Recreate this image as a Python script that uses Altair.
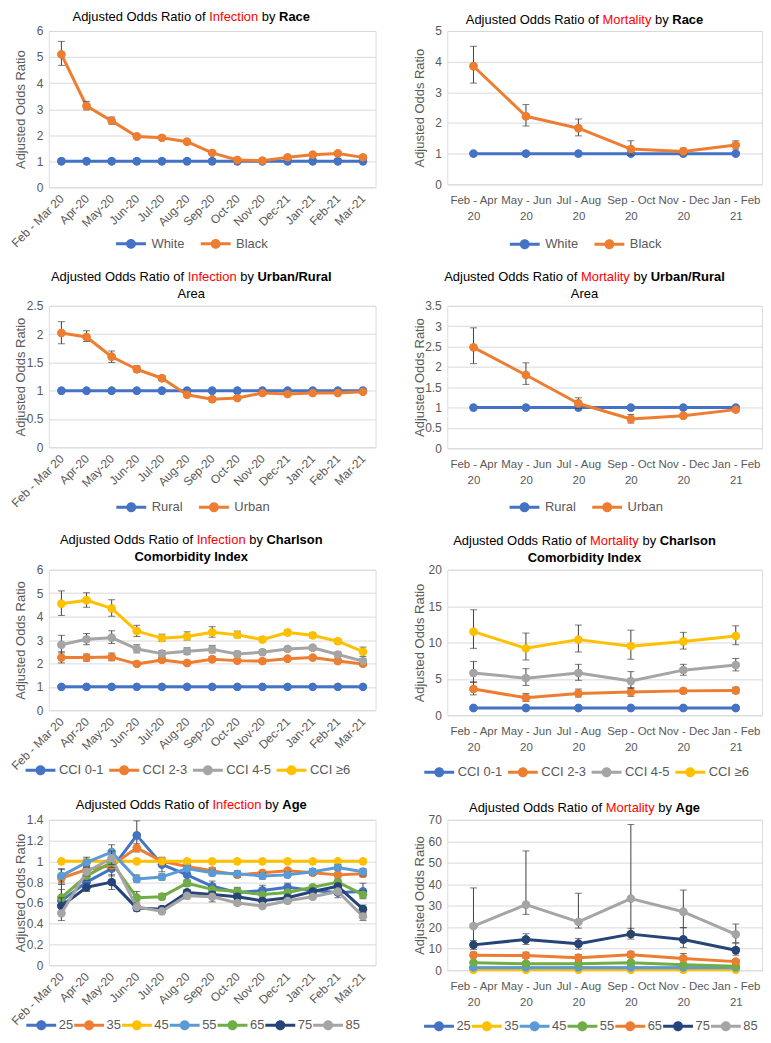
import altair as alt
import pandas as pd

FONT = "Liberation Sans"
BLUE = "#4472C4"; ORANGE = "#ED7D31"; GRAY = "#A5A5A5"; YELLOW = "#FFC000"
LBLUE = "#5B9BD5"; GREEN = "#70AD47"; NAVY = "#264478"
AXIS_GRAY = "#595959"; GRID = "#D9D9D9"; ERR = "#404040"; RED = "#FF0000"

# ---------------- categories ----------------
MONTHS = ["Feb - Mar 20", "Apr-20", "May-20", "Jun-20", "Jul-20", "Aug-20", "Sep-20",
          "Oct-20", "Nov-20", "Dec-21", "Jan-21", "Feb-21", "Mar-21"]
BIMONTHS = ["Feb - Apr 20", "May - Jun 20", "Jul - Aug 20", "Sep - Oct 20",
            "Nov - Dec 20", "Jan - Feb 21"]

# ---------------- Infection by Race ----------------
inf_race_white = [1, 1, 1, 1, 1, 1, 1, 1, 1, 1, 1, 1, 1]
inf_race_black = [5.10, 3.12, 2.55, 1.95, 1.90, 1.75, 1.32, 1.05, 1.02, 1.15, 1.25, 1.30, 1.15]
inf_race_black_lo = [4.68, 2.97, 2.43, 1.89, 1.85, 1.70, 1.27, 1.00, 0.98, 1.10, 1.20, 1.24, 1.10]
inf_race_black_hi = [5.60, 3.30, 2.70, 2.02, 1.96, 1.81, 1.38, 1.10, 1.07, 1.20, 1.31, 1.36, 1.21]

# ---------------- Mortality by Race ----------------
mort_race_white = [1, 1, 1, 1, 1, 1]
mort_race_black = [3.85, 2.22, 1.83, 1.15, 1.07, 1.28]
mort_race_black_lo = [3.30, 1.90, 1.58, 0.95, 0.97, 1.15]
mort_race_black_hi = [4.50, 2.60, 2.13, 1.42, 1.18, 1.42]

# ---------------- Infection by Urban/Rural ----------------
inf_area_rural = [1, 1, 1, 1, 1, 1, 1, 1, 1, 1, 1, 1, 1]
inf_area_urban = [2.02, 1.95, 1.60, 1.38, 1.22, 0.93, 0.85, 0.87, 0.96, 0.94, 0.96, 0.96, 0.98]
inf_area_urban_lo = [1.83, 1.87, 1.50, 1.33, 1.18, 0.90, 0.82, 0.85, 0.94, 0.92, 0.94, 0.94, 0.96]
inf_area_urban_hi = [2.22, 2.06, 1.70, 1.44, 1.26, 0.96, 0.88, 0.90, 0.98, 0.96, 0.98, 0.98, 1.00]

# ---------------- Mortality by Urban/Rural ----------------
mort_area_rural = [1, 1, 1, 1, 1, 1]
mort_area_urban = [2.48, 1.80, 1.10, 0.72, 0.80, 0.95]
mort_area_urban_lo = [2.08, 1.57, 0.98, 0.62, 0.75, 0.90]
mort_area_urban_hi = [2.96, 2.10, 1.24, 0.83, 0.85, 1.00]

# ---------------- Infection by CCI ----------------
inf_cci_01 = [1, 1, 1, 1, 1, 1, 1, 1, 1, 1, 1, 1, 1]
inf_cci_23 = [2.25, 2.25, 2.27, 1.98, 2.15, 2.02, 2.18, 2.12, 2.10, 2.20, 2.25, 2.10, 1.98]
inf_cci_23_lo = [2.02, 2.10, 2.12, 1.90, 2.05, 1.95, 2.10, 2.05, 2.03, 2.13, 2.18, 2.03, 1.90]
inf_cci_23_hi = [2.50, 2.40, 2.45, 2.07, 2.25, 2.10, 2.27, 2.20, 2.18, 2.28, 2.33, 2.18, 2.06]
inf_cci_45 = [2.80, 3.03, 3.10, 2.62, 2.42, 2.52, 2.60, 2.40, 2.48, 2.62, 2.67, 2.38, 2.10]
inf_cci_45_lo = [2.45, 2.80, 2.85, 2.45, 2.30, 2.38, 2.45, 2.30, 2.38, 2.52, 2.57, 2.28, 2.00]
inf_cci_45_hi = [3.20, 3.28, 3.40, 2.80, 2.55, 2.67, 2.77, 2.52, 2.58, 2.72, 2.77, 2.48, 2.20]
inf_cci_6 = [4.55, 4.70, 4.35, 3.38, 3.08, 3.15, 3.33, 3.22, 3.02, 3.32, 3.20, 2.95, 2.50]
inf_cci_6_lo = [4.05, 4.40, 4.02, 3.15, 2.95, 3.00, 3.12, 3.10, 2.93, 3.22, 3.10, 2.85, 2.30]
inf_cci_6_hi = [5.10, 5.02, 4.72, 3.63, 3.25, 3.35, 3.57, 3.38, 3.12, 3.42, 3.30, 3.05, 2.70]

# ---------------- Mortality by CCI ----------------
mort_cci_01 = [1, 1, 1, 1, 1, 1]
mort_cci_23 = [3.6, 2.4, 3.0, 3.2, 3.35, 3.4]
mort_cci_23_lo = [2.8, 1.9, 2.5, 2.6, 3.0, 3.0]
mort_cci_23_hi = [4.6, 3.0, 3.6, 3.8, 3.7, 3.85]
mort_cci_45 = [5.8, 5.1, 5.8, 4.7, 6.2, 6.9]
mort_cci_45_lo = [4.5, 4.1, 4.8, 3.7, 5.5, 6.1]
mort_cci_45_hi = [7.4, 6.4, 7.0, 6.0, 7.0, 7.8]
mort_cci_6 = [11.5, 9.2, 10.4, 9.5, 10.15, 10.9]
mort_cci_6_lo = [9.2, 7.6, 8.7, 7.7, 9.1, 9.7]
mort_cci_6_hi = [14.5, 11.3, 12.4, 11.7, 11.4, 12.3]

# ---------------- Infection by Age ----------------
inf_age_25 = [0.62, 0.80, 0.93, 1.25, 0.97, 0.87, 0.76, 0.70, 0.72, 0.75, 0.72, 0.70, 0.71]
inf_age_25_lo = [0.50, 0.74, 0.86, 1.12, 0.90, 0.82, 0.71, 0.66, 0.68, 0.71, 0.68, 0.65, 0.64]
inf_age_25_hi = [0.78, 0.87, 1.01, 1.39, 1.04, 0.93, 0.81, 0.75, 0.77, 0.79, 0.76, 0.75, 0.79]
inf_age_35 = [0.84, 0.92, 0.96, 1.13, 1.00, 0.95, 0.91, 0.87, 0.89, 0.91, 0.89, 0.87, 0.88]
inf_age_35_lo = [0.78, 0.88, 0.92, 1.09, 0.97, 0.92, 0.88, 0.85, 0.87, 0.89, 0.87, 0.85, 0.85]
inf_age_35_hi = [0.92, 0.96, 1.01, 1.17, 1.03, 0.98, 0.94, 0.90, 0.91, 0.93, 0.91, 0.89, 0.91]
inf_age_45 = [1, 1, 1, 1, 1, 1, 1, 1, 1, 1, 1, 1, 1]
inf_age_55 = [0.86, 0.99, 1.09, 0.83, 0.85, 0.93, 0.89, 0.88, 0.86, 0.87, 0.90, 0.94, 0.90]
inf_age_55_lo = [0.80, 0.95, 1.03, 0.80, 0.82, 0.90, 0.86, 0.85, 0.83, 0.85, 0.87, 0.91, 0.86]
inf_age_55_hi = [0.93, 1.04, 1.16, 0.87, 0.88, 0.96, 0.92, 0.91, 0.89, 0.90, 0.93, 0.97, 0.93]
inf_age_65 = [0.65, 0.86, 0.99, 0.65, 0.66, 0.79, 0.73, 0.71, 0.68, 0.70, 0.75, 0.80, 0.68]
inf_age_65_lo = [0.58, 0.82, 0.94, 0.62, 0.63, 0.76, 0.70, 0.68, 0.66, 0.68, 0.73, 0.77, 0.65]
inf_age_65_hi = [0.73, 0.90, 1.04, 0.71, 0.69, 0.82, 0.76, 0.74, 0.71, 0.72, 0.77, 0.83, 0.72]
inf_age_75 = [0.57, 0.75, 0.80, 0.55, 0.54, 0.70, 0.68, 0.66, 0.62, 0.65, 0.71, 0.76, 0.54]
inf_age_75_lo = [0.50, 0.71, 0.73, 0.52, 0.51, 0.67, 0.65, 0.63, 0.60, 0.63, 0.69, 0.73, 0.50]
inf_age_75_hi = [0.65, 0.79, 0.87, 0.58, 0.57, 0.73, 0.71, 0.69, 0.64, 0.67, 0.73, 0.79, 0.58]
inf_age_85 = [0.50, 0.90, 1.03, 0.56, 0.52, 0.67, 0.66, 0.60, 0.57, 0.62, 0.66, 0.71, 0.47]
inf_age_85_lo = [0.43, 0.86, 0.97, 0.53, 0.50, 0.64, 0.61, 0.58, 0.55, 0.60, 0.64, 0.68, 0.43]
inf_age_85_hi = [0.58, 0.94, 1.10, 0.60, 0.55, 0.70, 0.70, 0.63, 0.60, 0.64, 0.68, 0.74, 0.51]

# ---------------- Mortality by Age ----------------
mort_age_25 = [1.0, 1.0, 1.0, 1.0, 1.0, 1.0]
mort_age_35 = [0.2, 0.2, 0.2, 0.2, 0.2, 0.2]
mort_age_45 = [1.2, 1.2, 1.2, 1.2, 1.2, 1.2]
mort_age_55 = [3.5, 3.0, 3.0, 3.5, 2.5, 1.8]
mort_age_55_lo = [2.8, 2.4, 2.4, 2.8, 2.0, 1.4]
mort_age_55_hi = [4.3, 3.8, 3.7, 4.3, 3.1, 2.3]
mort_age_65 = [7.0, 6.8, 5.8, 7.2, 5.5, 4.0]
mort_age_65_lo = [5.8, 5.5, 4.7, 5.9, 4.5, 3.3]
mort_age_65_hi = [8.4, 8.4, 7.2, 8.8, 7.8, 4.9]
mort_age_75 = [11.8, 14.3, 12.3, 16.8, 14.3, 9.3]
mort_age_75_lo = [9.6, 12.0, 9.8, 14.5, 10.5, 7.0]
mort_age_75_hi = [13.8, 17.0, 14.8, 19.5, 19.8, 12.6]
mort_age_85 = [20.5, 30.5, 22.5, 33.3, 27.2, 16.7]
mort_age_85_lo = [11.0, 26.0, 19.6, 16.4, 19.8, 12.8]
mort_age_85_hi = [38.3, 55.5, 35.8, 67.8, 37.3, 21.5]

# ---------------- text metrics (Liberation Sans = Arial/Helvetica widths) ----------------
REG = {' ': 278, 'A': 667, 'B': 667, 'C': 722, 'D': 722, 'E': 667, 'F': 611, 'I': 278,
       'M': 833, 'O': 778, 'R': 722, 'U': 722, 'W': 944, 'a': 556, 'b': 556, 'c': 500,
       'd': 556, 'e': 556, 'f': 278, 'g': 556, 'h': 556, 'i': 222, 'j': 222, 'k': 500,
       'l': 222, 'm': 833, 'n': 556, 'o': 556, 'p': 556, 'r': 333, 's': 500, 't': 278,
       'u': 556, 'x': 500, 'y': 500, '/': 278, '-': 333, '.': 278, '\u2265': 549}
BOLD = {' ': 278, 'A': 722, 'C': 722, 'I': 278, 'R': 722, 'U': 722, 'a': 556, 'b': 611,
        'c': 556, 'd': 611, 'e': 556, 'g': 611, 'h': 611, 'i': 278, 'l': 278, 'm': 889,
        'n': 611, 'o': 611, 'r': 389, 's': 556, 't': 333, 'u': 611, 'x': 556, 'y': 556, '/': 278}


def text_w(s, size, bold=False):
    tab = BOLD if bold else REG
    return sum(tab.get(ch, 556) for ch in s) * size / 1000.0


LEFT_X = 48.0     # page x of left plot areas
RIGHT_X = 446.7   # page x of right plot areas
# legend symbol: a 30px line with a dot in the middle (size 100 -> 5px per unit)
PATH = "M-3,-0.3H3V0.3H-3Z M-1,0A1,1 0 1,1 1,0A1,1 0 1,1 -1,0Z"


def title_layers(lines, cx):
    out = []
    for segs, yc in lines:
        total = sum(text_w(t, 13, st == "b") for t, st in segs)
        x = cx - total / 2.0
        for t, st in segs:
            w = text_w(t, 13, st == "b")
            if t.strip():
                out.append(
                    alt.Chart(pd.DataFrame({"t": [t]})).mark_text(
                        align="left", baseline="middle", font=FONT, fontSize=13,
                        fontWeight="bold" if st == "b" else "normal",
                        color=RED if st == "r" else "#000000",
                    ).encode(text="t:N", x=alt.value(x), y=alt.value(yc))
                )
            x += w
    return out


def make_df(periods, series, vals, los, his):
    rows = []
    for s in series:
        for i, p in enumerate(periods):
            lo = los.get(s)
            hi = his.get(s)
            rows.append({"period": p, "series": s, "value": vals[s][i],
                         "lo": None if lo is None else lo[i],
                         "hi": None if hi is None else hi[i]})
    return pd.DataFrame(rows)


def panel(periods, series, colors, vals, los, his, ymax, ticks, W, H, rotated,
          lines, left_page, title_cx_page, leg_cx_page, leg_cy, col_pad, lab_off):
    df = make_df(periods, series, vals, los, his)
    cscale = alt.Scale(domain=series, range=colors)
    yscale = alt.Scale(domain=[0, ymax], nice=False, zero=True)
    if rotated:
        xaxis = alt.Axis(title=None, domain=False, ticks=False, tickSize=0, grid=False,
                         labelAngle=315, labelAlign="right", labelBaseline="middle",
                         labelPadding=9, labelFont=FONT, labelFontSize=12,
                         labelColor=AXIS_GRAY, labelOverlap=False)
    else:
        xaxis = alt.Axis(title=None, domain=False, ticks=False, tickSize=0, grid=False,
                         labelAngle=0, labelAlign="center", labelBaseline="top",
                         labelPadding=10, labelFont=FONT, labelFontSize=11.5,
                         labelColor=AXIS_GRAY, labelOverlap=False, labelLineHeight=16,
                         labelExpr="[slice(datum.label, 0, -3), slice(datum.label, -2)]")
    yaxis = alt.Axis(title="Adjusted Odds Ratio", values=ticks, labelExpr="'' + datum.value",
                     grid=True, gridColor=GRID, gridWidth=1, domain=False, ticks=False,
                     tickSize=0, labelFont=FONT, labelFontSize=12, labelColor=AXIS_GRAY,
                     labelPadding=6, titleFont=FONT, titleFontSize=13,
                     titleFontWeight="normal", titleColor=AXIS_GRAY, titleAngle=270,
                     titleX=-28, titleY=H / 2.0, titleAlign="center", titleBaseline="middle")
    xenc = alt.X("period:N", sort=periods,
                 scale=alt.Scale(type="point", domain=periods, padding=0.5), axis=xaxis)

    def yenc(field):
        return alt.Y(field + ":Q", scale=yscale, axis=yaxis)

    labels = list(series)
    n = len(labels)
    lw = sum(32 + lab_off + text_w(l, 13) for l in labels) + col_pad * (n - 1)
    leg = alt.Legend(title=None, orient="none", padding=0,
                     legendX=(leg_cx_page - left_page) - lw / 2.0 + 10,
                     legendY=H + leg_cy - 6.5,
                     direction="horizontal", columns=n, columnPadding=col_pad,
                     symbolType=PATH, symbolSize=100, symbolStrokeWidth=0, symbolOpacity=1,
                     labelFont=FONT, labelFontSize=13, labelColor=AXIS_GRAY,
                     labelOffset=10 + lab_off)

    layers = title_layers(lines, title_cx_page - left_page)
    base = alt.Chart(df)
    # legend-carrying layer (all points; repainted below by the per-series layers)
    layers.append(base.mark_point(filled=True, size=70, opacity=1, strokeWidth=0).encode(
        x=xenc, y=yenc("value"), color=alt.Color("series:N", scale=cscale, legend=leg)))
    for s in series:
        b = base.transform_filter(alt.datum.series == s)
        layers.append(b.mark_line(strokeWidth=3, strokeJoin="round").encode(
            x=xenc, y=yenc("value"),
            color=alt.Color("series:N", scale=cscale, legend=None)))
        if los.get(s) is not None:
            e = b.transform_filter("isValid(datum.lo)")
            layers.append(e.mark_rule(color=ERR, strokeWidth=1).encode(
                x=xenc, y=yenc("lo"), y2="hi:Q"))
            layers.append(e.mark_tick(color=ERR, thickness=1, size=7).encode(
                x=xenc, y=yenc("lo")))
            layers.append(e.mark_tick(color=ERR, thickness=1, size=7).encode(
                x=xenc, y=yenc("hi")))
        layers.append(b.mark_point(filled=True, size=70, opacity=1, strokeWidth=0).encode(
            x=xenc, y=yenc("value"),
            color=alt.Color("series:N", scale=cscale, legend=None)))
    return alt.layer(*layers).properties(width=W, height=H)


def T(kind, subject):
    return [("Adjusted Odds Ratio of", "n"), (" ", "n"), (kind, "r"), (" ", "n"),
            ("by", "n"), (" ", "n"), (subject, "b")]


LW = 328
RW = 316

# Row 1
p1 = panel(MONTHS, ["White", "Black"], [BLUE, ORANGE],
           {"White": inf_race_white, "Black": inf_race_black},
           {"Black": inf_race_black_lo}, {"Black": inf_race_black_hi},
           6, [0, 1, 2, 3, 4, 5, 6], LW, 157, True,
           [(T("Infection", "Race"), -14)], LEFT_X, 191, 190, 56.5, 15, 4)
p2 = panel(BIMONTHS, ["White", "Black"], [BLUE, ORANGE],
           {"White": mort_race_white, "Black": mort_race_black},
           {"Black": mort_race_black_lo}, {"Black": mort_race_black_hi},
           5, [0, 1, 2, 3, 4, 5], RW, 154, False,
           [(T("Mortality", "Race"), -11)], RIGHT_X, 584.5, 584, 60, 15, 4)

# Row 2
p3 = panel(MONTHS, ["Rural", "Urban"], [BLUE, ORANGE],
           {"Rural": inf_area_rural, "Urban": inf_area_urban},
           {"Urban": inf_area_urban_lo}, {"Urban": inf_area_urban_hi},
           2.5, [0, 0.5, 1, 1.5, 2, 2.5], LW, 142, True,
           [(T("Infection", "Urban/Rural"), -29), ([("Area", "n")], -12)],
           LEFT_X, 191, 191, 60, 15, 4)
p4 = panel(BIMONTHS, ["Rural", "Urban"], [BLUE, ORANGE],
           {"Rural": mort_area_rural, "Urban": mort_area_urban},
           {"Urban": mort_area_urban_lo}, {"Urban": mort_area_urban_hi},
           3.5, [0, 0.5, 1, 1.5, 2, 2.5, 3, 3.5], RW, 143, False,
           [(T("Mortality", "Urban/Rural"), -28.5), ([("Area", "n")], -12.3)],
           RIGHT_X, 584.5, 584.5, 59, 15, 4)

# Row 3
CCI = ["CCI 0-1", "CCI 2-3", "CCI 4-5", "CCI \u22656"]
CCI_COL = [BLUE, ORANGE, GRAY, YELLOW]
p5 = panel(MONTHS, CCI, CCI_COL,
           {CCI[0]: inf_cci_01, CCI[1]: inf_cci_23, CCI[2]: inf_cci_45, CCI[3]: inf_cci_6},
           {CCI[1]: inf_cci_23_lo, CCI[2]: inf_cci_45_lo, CCI[3]: inf_cci_6_lo},
           {CCI[1]: inf_cci_23_hi, CCI[2]: inf_cci_45_hi, CCI[3]: inf_cci_6_hi},
           6, [0, 1, 2, 3, 4, 5, 6], LW, 141, True,
           [(T("Infection", "Charlson"), -30), ([("Comorbidity Index", "b")], -13)],
           LEFT_X, 191, 186, 60, 5, 2)
p6 = panel(BIMONTHS, CCI, CCI_COL,
           {CCI[0]: mort_cci_01, CCI[1]: mort_cci_23, CCI[2]: mort_cci_45, CCI[3]: mort_cci_6},
           {CCI[1]: mort_cci_23_lo, CCI[2]: mort_cci_45_lo, CCI[3]: mort_cci_6_lo},
           {CCI[1]: mort_cci_23_hi, CCI[2]: mort_cci_45_hi, CCI[3]: mort_cci_6_hi},
           20, [0, 5, 10, 15, 20], RW, 146, False,
           [(T("Mortality", "Charlson"), -29), ([("Comorbidity Index", "b")], -12)],
           RIGHT_X, 584.5, 585, 57, 5, 2)

# Row 4
AGES = ["25", "35", "45", "55", "65", "75", "85"]
p7 = panel(MONTHS, AGES, [BLUE, ORANGE, YELLOW, LBLUE, GREEN, NAVY, GRAY],
           {"25": inf_age_25, "35": inf_age_35, "45": inf_age_45, "55": inf_age_55,
            "65": inf_age_65, "75": inf_age_75, "85": inf_age_85},
           {"25": inf_age_25_lo, "35": inf_age_35_lo, "55": inf_age_55_lo,
            "65": inf_age_65_lo, "75": inf_age_75_lo, "85": inf_age_85_lo},
           {"25": inf_age_25_hi, "35": inf_age_35_hi, "55": inf_age_55_hi,
            "65": inf_age_65_hi, "75": inf_age_75_hi, "85": inf_age_85_hi},
           1.4, [0, 0.2, 0.4, 0.6, 0.8, 1, 1.2, 1.4], LW, 146, True,
           [(T("Infection", "Age"), -15)], LEFT_X, 191, 190, 60, 0, 1)
p8 = panel(BIMONTHS, AGES, [BLUE, YELLOW, LBLUE, GREEN, ORANGE, NAVY, GRAY],
           {"25": mort_age_25, "35": mort_age_35, "45": mort_age_45, "55": mort_age_55,
            "65": mort_age_65, "75": mort_age_75, "85": mort_age_85},
           {"55": mort_age_55_lo, "65": mort_age_65_lo, "75": mort_age_75_lo,
            "85": mort_age_85_lo},
           {"55": mort_age_55_hi, "65": mort_age_65_hi, "75": mort_age_75_hi,
            "85": mort_age_85_hi},
           70, [0, 10, 20, 30, 40, 50, 60, 70], RW, 151, False,
           [(T("Mortality", "Age"), -12)], RIGHT_X, 584.5, 588, 56, 0, 1)


def row(a, b):
    return alt.hconcat(a, b, spacing=36).resolve_scale(color="independent").resolve_legend(
        color="independent")


chart = alt.vconcat(row(p1, p2), row(p3, p4), row(p5, p6), row(p7, p8), spacing=18
                    ).resolve_scale(color="independent").resolve_legend(color="independent"
                    ).properties(padding=0).configure_view(stroke=None).configure(
                        font=FONT, background="white", padding=0)

chart.save("out.html", embed_options={"renderer": "svg", "actions": False})
